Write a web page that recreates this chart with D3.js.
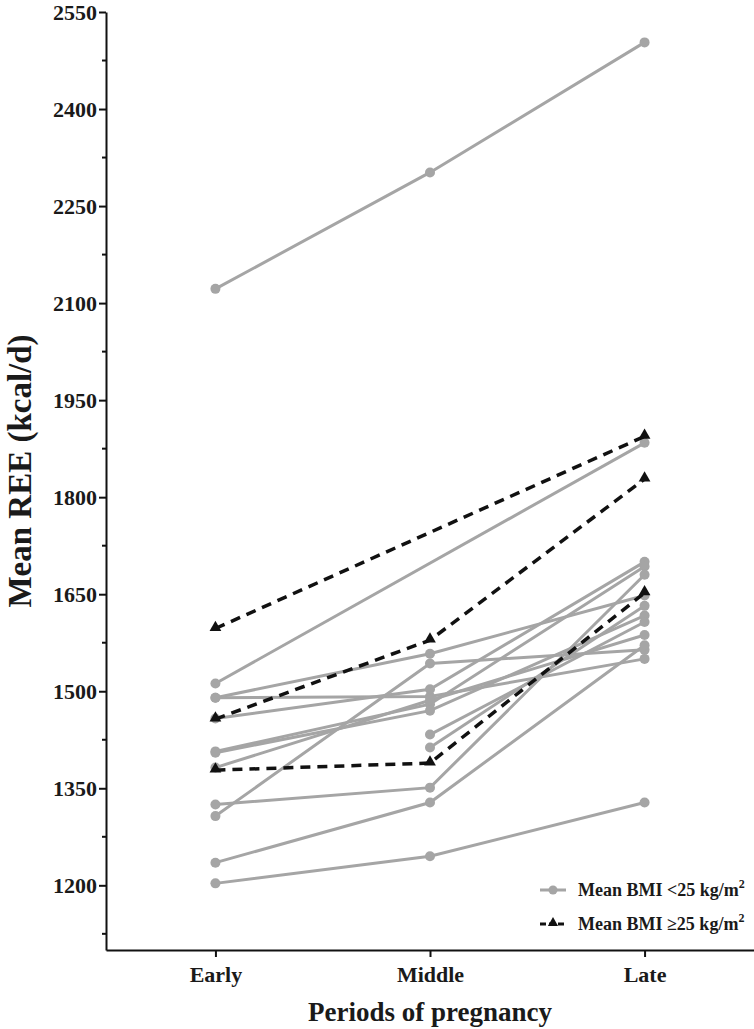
<!DOCTYPE html>
<html>
<head>
<meta charset="utf-8">
<script src="https://cdn.jsdelivr.net/npm/d3@7"></script>
<style>
  body { margin: 0; background: #fff; }
  svg text { font-family: "Liberation Serif", "DejaVu Serif", serif !important; font-weight: bold; fill: #1a1a1a; }
</style>
</head>
<body>
<div id="chart"></div>
<script>
var periods = ["Early", "Middle", "Late"];

// each row: one participant, values for Early / Middle / Late (null = not measured)
var bmiUnder25 = [
  [2122, 2302, 2503],
  [1512, null, 1884],
  [1490, 1558, 1648],
  [1490, 1492, 1550],
  [1458, 1503, 1700],
  [1407, 1480, 1693],
  [1405, 1470, 1617],
  [1382, 1486, 1587],
  [1307, 1543, 1564],
  [1325, 1351, 1680],
  [1235, 1328, 1571],
  [1203, 1245, 1328],
  [null, 1433, 1607],
  [null, 1413, 1632]
];
var bmiOver25 = [
  [1597, null, 1894],
  [1457, 1579, 1828],
  [1378, 1389, 1652]
];
var yTicks = [1200, 1350, 1500, 1650, 1800, 1950, 2100, 2250, 2400, 2550];
var yMinor = [1125, 1275, 1425, 1575, 1725, 1875, 2025, 2175, 2325, 2475];
var legendLabels = ["Mean BMI <25 kg/m", "Mean BMI \u226525 kg/m"];

var svgWidth = 754;
var svgHeight = 1029;
var margin = { top: 12, right: 0, bottom: 79, left: 106 };
var width = svgWidth - margin.left - margin.right;
var height = svgHeight - margin.top - margin.bottom;

var grey = "#a5a5a5";
var black = "#111";
var serif = "'Liberation Serif', 'DejaVu Serif', serif";

var svg = d3.select("#chart")
  .append("svg")
  .attr("width", svgWidth)
  .attr("height", svgHeight)
  .attr("font-family", serif);

var chartGroup = svg.append("g")
  .attr("transform", `translate(${margin.left}, ${margin.top})`);

var x = d3.scalePoint()
  .domain(periods)
  .range([0, width])
  .padding(0.51);

var y = d3.scaleLinear()
  .domain([1100, 2550])
  .range([height, 0]);

// axes
var leftAxis = d3.axisLeft(y).tickValues(yTicks).tickFormat(d3.format("d"))
  .tickSize(7).tickPadding(2).tickSizeOuter(0);
var bottomAxis = d3.axisBottom(x).tickSize(7).tickPadding(9).tickSizeOuter(0);

var yAxisG = chartGroup.append("g").call(leftAxis).attr("font-family", serif);
yAxisG.selectAll("text").style("font-size", "22px").attr("dy", "0.34em");

chartGroup.append("g")
  .selectAll("line")
  .data(yMinor)
  .enter()
  .append("line")
  .attr("x1", -4)
  .attr("x2", 0)
  .attr("y1", d => y(d))
  .attr("y2", d => y(d))
  .attr("stroke", black)
  .attr("stroke-width", 2);

var xAxisG = chartGroup.append("g")
  .attr("transform", `translate(0, ${height})`)
  .call(bottomAxis)
  .attr("font-family", serif);
xAxisG.selectAll("text").style("font-size", "22px");

chartGroup.selectAll(".domain, .tick line")
  .attr("stroke", black)
  .attr("stroke-width", 2);

// data lines
function toPoints(row) {
  return periods.map((p, i) => ({ p: p, v: row[i] })).filter(d => d.v != null);
}

var line = d3.line()
  .x(d => x(d.p))
  .y(d => y(d.v));

var greyG = chartGroup.append("g");
greyG.selectAll("path")
  .data(bmiUnder25)
  .enter()
  .append("path")
  .attr("d", d => line(toPoints(d)))
  .attr("fill", "none")
  .attr("stroke", grey)
  .attr("stroke-width", 3);

greyG.selectAll("circle")
  .data(bmiUnder25.flatMap(toPoints))
  .enter()
  .append("circle")
  .attr("cx", d => x(d.p))
  .attr("cy", d => y(d.v))
  .attr("r", 5)
  .attr("fill", grey);

var tri = d3.symbol().type(d3.symbolTriangle).size(60);

var blackG = chartGroup.append("g");
blackG.selectAll("path.dash")
  .data(bmiOver25)
  .enter()
  .append("path")
  .attr("class", "dash")
  .attr("d", d => line(toPoints(d)))
  .attr("fill", "none")
  .attr("stroke", black)
  .attr("stroke-width", 3.5)
  .attr("stroke-dasharray", "10,7");

blackG.selectAll("path.tri")
  .data(bmiOver25.flatMap(toPoints))
  .enter()
  .append("path")
  .attr("class", "tri")
  .attr("d", tri)
  .attr("transform", d => `translate(${x(d.p)}, ${y(d.v) - 1})`)
  .attr("fill", black);

// axis titles
svg.append("text")
  .attr("transform", "rotate(-90)")
  .attr("x", -471)
  .attr("y", 31)
  .attr("text-anchor", "middle")
  .style("font-size", "33px")
  .text("Mean REE (kcal/d)");

svg.append("text")
  .attr("x", 430)
  .attr("y", 1021)
  .attr("text-anchor", "middle")
  .style("font-size", "27px")
  .text("Periods of pregnancy");

// legend
var legend = svg.append("g").attr("transform", "translate(540, 890)");
var rows = legend.selectAll("g")
  .data(legendLabels)
  .enter()
  .append("g")
  .attr("transform", (d, i) => `translate(0, ${i * 34})`);

rows.append("line")
  .attr("x1", 0).attr("x2", 26)
  .attr("y1", 0).attr("y2", 0)
  .attr("stroke", (d, i) => i === 0 ? grey : black)
  .attr("stroke-width", 3)
  .attr("stroke-dasharray", (d, i) => i === 0 ? null : "6,3");

rows.filter((d, i) => i === 0).append("circle")
  .attr("cx", 13).attr("cy", 0).attr("r", 4.5).attr("fill", grey);
rows.filter((d, i) => i === 1).append("path")
  .attr("d", d3.symbol().type(d3.symbolTriangle).size(45))
  .attr("transform", "translate(13, -1)")
  .attr("fill", black);

var lt = rows.append("text")
  .attr("x", 38)
  .attr("y", 6)
  .style("font-size", "18px")
  .text(d => d);
lt.append("tspan")
  .attr("dy", -8)
  .style("font-size", "12px")
  .text("2");
</script>
</body>
</html>
